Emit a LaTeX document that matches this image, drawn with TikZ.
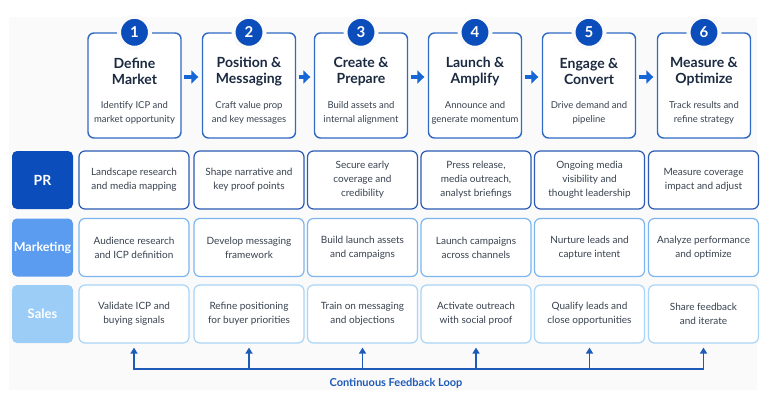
\documentclass[tikz,border=0pt]{standalone}
\usepackage{fontspec}
\setmainfont{Lato}
\usetikzlibrary{arrows.meta,calc}
\definecolor{bgc}{HTML}{FAFAFB}
\definecolor{navy}{HTML}{0B4DBA}
\definecolor{topb}{HTML}{2F6BC4}
\definecolor{arrc}{HTML}{1766D6}
\definecolor{ttl}{HTML}{1B2A41}
\definecolor{dsc}{HTML}{38424F}
\definecolor{prc}{HTML}{0B4DBA}
\definecolor{mkc}{HTML}{5B9CF0}
\definecolor{slc}{HTML}{9BCDF7}
\definecolor{prb}{HTML}{2C5BB3}
\definecolor{mkb}{HTML}{7DB6EE}
\definecolor{slb}{HTML}{A9D5F6}
\definecolor{fbc}{HTML}{1E5BB8}
\tikzset{
  topbox/.style={draw=topb,line width=1.4pt,rounded corners=6pt,fill=white,minimum width=93pt,minimum height=105pt},
  numc/.style={circle,fill=navy,draw=bgc,line width=4pt,minimum size=31pt,inner sep=0pt,text=white,font=\fontsize{15}{15}\selectfont\bfseries},
  ttltext/.style={align=center,text=ttl,font=\fontsize{14}{16.5}\selectfont\bfseries},
  dsctext/.style={align=center,text=dsc,font=\fontsize{9.5}{14}\selectfont},
  cell/.style={rounded corners=6pt,fill=white,line width=1.2pt,minimum width=110pt,minimum height=58pt,align=center,text=dsc,font=\fontsize{10}{14}\selectfont,inner sep=2pt},
  cellpr/.style={cell,draw=prb},
  cellmk/.style={cell,draw=mkb},
  cellsl/.style={cell,draw=slb},
  lab/.style={rounded corners=5pt,minimum width=61pt,minimum height=58pt,text=white,inner sep=0pt},
  flowarr/.style={draw=arrc,line width=4.5pt,-{Triangle[length=7pt,width=13pt]}},
  fb/.style={draw=fbc,line width=1.6pt},
  fbarr/.style={fb,-{Triangle[length=6pt,width=7pt]},shorten >=4pt}
}
\begin{document}
\begin{tikzpicture}[x=1pt,y=-1pt]
\useasboundingbox (0,0) rectangle (768,409);
\fill[bgc] (9,17) rectangle (757,390);

% top step boxes
\node[topbox] (t1) at (134.5,85.5) {};
\node[topbox] (t2) at (249,85.5) {};
\node[topbox] (t3) at (361,85.5) {};
\node[topbox] (t4) at (475,85.5) {};
\node[topbox] (t5) at (589,85.5) {};
\node[topbox] (t6) at (704,85.5) {};

\node[numc] (n1) at (t1.north) {1};
\node[numc] (n2) at (t2.north) {2};
\node[numc] (n3) at (t3.north) {3};
\node[numc] (n4) at (t4.north) {4};
\node[numc] (n5) at (t5.north) {5};
\node[numc] (n6) at (t6.north) {6};

\node[ttltext] (h1) at (134.5,71.5) {Define\\Market};
\node[ttltext] (h2) at (249,71.5) {Position \&\\Messaging};
\node[ttltext] (h3) at (361,71.5) {Create \&\\Prepare};
\node[ttltext] (h4) at (475,71.5) {Launch \&\\Amplify};
\node[ttltext] (h5) at (589,71.5) {Engage \&\\Convert};
\node[ttltext] (h6) at (704,71.5) {Measure \&\\Optimize};

\node[dsctext] (d1) at (134.5,113) {Identify ICP and\\market opportunity};
\node[dsctext] (d2) at (249,113) {Craft value prop\\and key messages};
\node[dsctext] (d3) at (361,113) {Build assets and\\internal alignment};
\node[dsctext] (d4) at (475,113) {Announce and\\generate momentum};
\node[dsctext] (d5) at (589,113) {Drive demand and\\pipeline};
\node[dsctext] (d6) at (704,113) {Track results and\\refine strategy};

\draw[flowarr] ($(t1.east)+(2.5,-8.5)$) -- ($(t2.west)+(-3.5,-8.5)$);
\draw[flowarr] ($(t2.east)+(2.5,-8.5)$) -- ($(t3.west)+(-3.5,-8.5)$);
\draw[flowarr] ($(t3.east)+(2.5,-8.5)$) -- ($(t4.west)+(-3.5,-8.5)$);
\draw[flowarr] ($(t4.east)+(2.5,-8.5)$) -- ($(t5.west)+(-3.5,-8.5)$);
\draw[flowarr] ($(t5.east)+(2.5,-8.5)$) -- ($(t6.west)+(-3.5,-8.5)$);

% row labels
\node[lab,fill=prc,font=\fontsize{14}{14}\selectfont\bfseries] (lpr) at (42.5,180) {PR};
\node[lab,fill=mkc,font=\fontsize{12.5}{12.5}\selectfont\bfseries] (lmk) at (42.5,247.5) {Marketing};
\node[lab,fill=slc,font=\fontsize{13}{13}\selectfont\bfseries] (lsl) at (42.5,314) {Sales};

% PR row
\node[cellpr] (p1) at (134,180) {Landscape research\\and media mapping};
\node[cellpr] (p2) at (249,180) {Shape narrative and\\key proof points};
\node[cellpr] (p3) at (362.5,180) {Secure early\\coverage and\\credibility};
\node[cellpr] (p4) at (476,180) {Press release,\\media outreach,\\analyst briefings};
\node[cellpr] (p5) at (589.5,180) {Ongoing media\\visibility and\\thought leadership};
\node[cellpr] (p6) at (703.5,180) {Measure coverage\\impact and adjust};

% Marketing row
\node[cellmk] (m1) at (134,247.5) {Audience research\\and ICP definition};
\node[cellmk] (m2) at (249,247.5) {Develop messaging\\framework};
\node[cellmk] (m3) at (362.5,247.5) {Build launch assets\\and campaigns};
\node[cellmk] (m4) at (476,247.5) {Launch campaigns\\across channels};
\node[cellmk] (m5) at (589.5,247.5) {Nurture leads and\\capture intent};
\node[cellmk] (m6) at (703.5,247.5) {Analyze performance\\and optimize};

% Sales row
\node[cellsl] (s1) at (134,314) {Validate ICP and\\buying signals};
\node[cellsl] (s2) at (249,314) {Refine positioning\\for buyer priorities};
\node[cellsl] (s3) at (362.5,314) {Train on messaging\\and objections};
\node[cellsl] (s4) at (476,314) {Activate outreach\\with social proof};
\node[cellsl] (s5) at (589.5,314) {Qualify leads and\\close opportunities};
\node[cellsl] (s6) at (703.5,314) {Share feedback\\and iterate};

% feedback loop
\coordinate (f1) at (134,369);
\coordinate (f2) at (249,369);
\coordinate (f3) at (362.5,369);
\coordinate (f4) at (476,369);
\coordinate (f5) at (589.5,369);
\coordinate (f6) at (703.5,369);
\draw[fb,line cap=rect] (f1) -- (f6);
\draw[fbarr] (f1) -- (s1.south);
\draw[fbarr] (f2) -- (s2.south);
\draw[fbarr] (f3) -- (s3.south);
\draw[fbarr] (f4) -- (s4.south);
\draw[fbarr] (f5) -- (s5.south);
\draw[fbarr] (f6) -- (s6.south);
\node[text=fbc,font=\fontsize{11}{11}\selectfont\bfseries] (fbl) at (396,383) {Continuous Feedback Loop};
\end{tikzpicture}
\end{document}
